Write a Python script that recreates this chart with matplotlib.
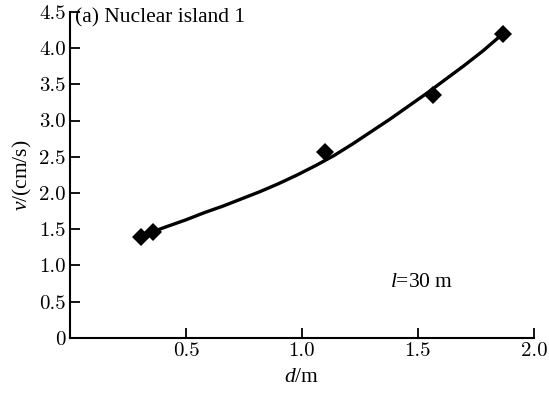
#!/usr/bin/env python3
# -*- coding: utf-8 -*-
import matplotlib
matplotlib.use('Agg')
import matplotlib.pyplot as plt

# measured points (diamonds)
d_meas = [0.306, 0.358, 1.099, 1.565, 1.866]
v_meas = [1.39, 1.46, 2.57, 3.35, 4.20]

# fitted curve
d_fit = [0.36, 0.42, 0.50, 0.58, 0.66, 0.74, 0.82, 0.90, 0.98, 1.06, 1.14, 1.22,
         1.30, 1.38, 1.46, 1.54, 1.62, 1.70, 1.78, 1.86]
v_fit = [1.47, 1.54, 1.63, 1.73, 1.82, 1.92, 2.02, 2.13, 2.25, 2.38, 2.52, 2.68,
         2.85, 3.02, 3.20, 3.38, 3.57, 3.76, 3.96, 4.18]

xticks = [0.5, 1.0, 1.5, 2.0]
xticklabels = ['0.5', '1.0', '1.5', '2.0']
yticks = [0, 0.5, 1.0, 1.5, 2.0, 2.5, 3.0, 3.5, 4.0, 4.5]
yticklabels = ['0', '0.5', '1.0', '1.5', '2.0', '2.5', '3.0', '3.5', '4.0', '4.5']

plt.rcParams['font.family'] = ['Liberation Serif', 'DejaVu Serif']
plt.rcParams['mathtext.fontset'] = 'custom'
plt.rcParams['mathtext.rm'] = 'Liberation Serif'
plt.rcParams['mathtext.it'] = 'Liberation Serif:italic'


def main():
    fig = plt.figure(figsize=(5.49, 3.93), dpi=100)
    ax = fig.add_axes([0.1275, 0.140, 0.845, 0.830])

    ax.plot(d_fit, v_fit, 'k-', lw=2.4, solid_joinstyle='round')
    ax.plot(d_meas, v_meas, 'kD', ms=9, markeredgewidth=0)

    ax.set_xlim(0, 2.0)
    ax.set_ylim(0, 4.5)
    ax.set_xticks(xticks)
    ax.set_xticklabels(xticklabels, family='cmr10', fontsize=15)
    ax.set_yticks(yticks)
    ax.set_yticklabels(yticklabels, family='cmr10', fontsize=15)
    ax.tick_params(direction='in', length=7, width=1.3, pad=3)

    ax.spines['top'].set_visible(False)
    ax.spines['right'].set_visible(False)
    ax.spines['left'].set_linewidth(1.5)
    ax.spines['bottom'].set_linewidth(1.5)

    ax.set_xlabel('$d$/m', fontsize=15.5, labelpad=6)
    ax.set_ylabel('$v$/(cm/s)', fontsize=15.5, labelpad=4)

    ax.text(0.02, 4.42, '(a) Nuclear island 1', fontsize=15.5, va='center', ha='left')
    ax.text(1.38, 0.77, '$l$=30 m', fontsize=15.5, va='center', ha='left')

    fig.savefig('out.png', dpi=100)


if __name__ == "__main__":
    main()
